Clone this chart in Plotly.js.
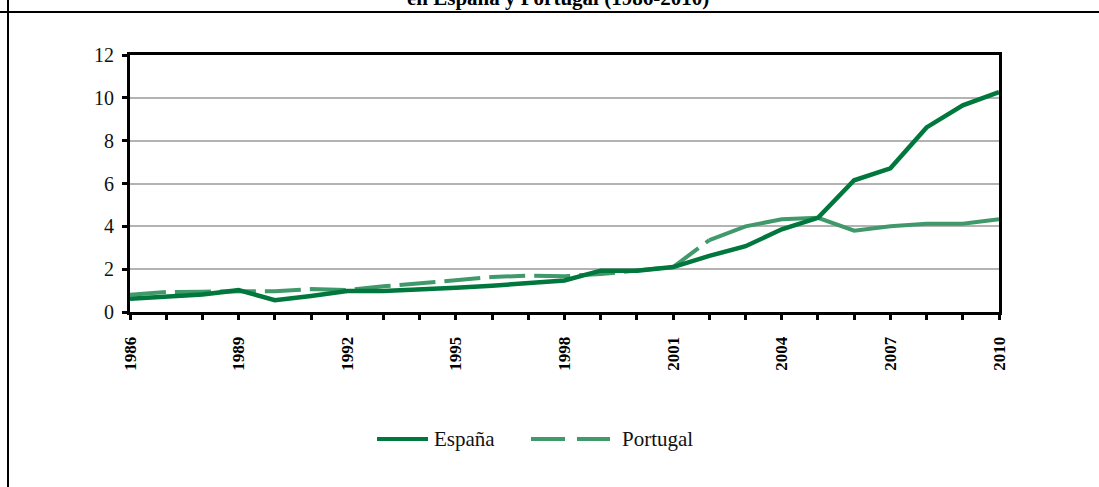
<!DOCTYPE html>
<html>
<head>
<meta charset="utf-8">
<script src="https://cdn.plot.ly/plotly-3.0.1.min.js"></script>
<style>
html,body{margin:0;padding:0;background:#fff;}
#chart{width:1099px;height:487px;}
</style>
</head>
<body>
<div id="chart"></div>
<script>
const years = [1986,1987,1988,1989,1990,1991,1992,1993,1994,1995,1996,1997,1998,1999,2000,2001,2002,2003,2004,2005,2006,2007,2008,2009,2010];
const espana = [0.62,0.70,0.82,1.02,0.55,0.75,0.98,0.98,1.03,1.13,1.23,1.33,1.47,1.93,1.93,2.10,2.62,3.07,3.86,4.40,6.15,6.71,8.62,9.65,10.27];
const portugal = [0.80,0.93,0.95,0.97,0.97,1.07,1.02,1.20,1.35,1.48,1.63,1.70,1.67,1.77,1.92,2.10,3.36,4.00,4.33,4.40,3.80,4.00,4.12,4.12,4.33];
const seriesNames = ["España","Portugal"];
const titleText = "en España y Portugal (1986-2010)";
const yTicks = [0,2,4,6,8,10,12];
const xLabelYears = [1986,1989,1992,1995,1998,2001,2004,2007,2010];

const W = 1099, H = 487;
const M = {l:130, r:100, t:55, b:175};
const PW = W - M.l - M.r, PH = H - M.t - M.b;
const px = v => (v - M.l) / PW;
const py = v => (H - M.b - v) / PH;

const cEsp = "#00773c";
const cPor = "#40996b";
const serif = "Liberation Serif, Times New Roman, serif";

const splitIdx = years.indexOf(2002);

const traces = [
  {x: years.slice(0, splitIdx + 1), y: portugal.slice(0, splitIdx + 1), name: seriesNames[1], mode: "lines",
   line: {color: cPor, width: 4, dash: "36px,9px"}, showlegend: false},
  {x: years.slice(splitIdx), y: portugal.slice(splitIdx), name: seriesNames[1], mode: "lines",
   line: {color: cPor, width: 4}, showlegend: false},
  {x: years, y: espana, name: seriesNames[0], mode: "lines",
   line: {color: cEsp, width: 4.5}, showlegend: false}
];

const shapes = [
  {type: "line", xref: "paper", yref: "paper", x0: px(0), x1: px(W), y0: py(12), y1: py(12), line: {color: "#000", width: 2}},
  {type: "line", xref: "paper", yref: "paper", x0: px(8), x1: px(8), y0: py(0), y1: py(H), line: {color: "#000", width: 2}},
  {type: "line", xref: "paper", yref: "paper", x0: px(377), x1: px(428), y0: py(439), y1: py(439), line: {color: cEsp, width: 4}},
  {type: "line", xref: "paper", yref: "paper", x0: px(531), x1: px(565), y0: py(439), y1: py(439), line: {color: cPor, width: 4}},
  {type: "line", xref: "paper", yref: "paper", x0: px(577), x1: px(610), y0: py(439), y1: py(439), line: {color: cPor, width: 4}}
];

const annotations = [
  {text: "<b>" + titleText + "</b>", xref: "paper", yref: "paper", x: px(558), y: py(12), xanchor: "center", yanchor: "bottom",
   showarrow: false, font: {family: serif, size: 21, color: "#000"}},
  {text: seriesNames[0], xref: "paper", yref: "paper", x: px(432), y: py(439), xanchor: "left", yanchor: "middle",
   showarrow: false, font: {family: serif, size: 21, color: "#111"}},
  {text: seriesNames[1], xref: "paper", yref: "paper", x: px(620), y: py(439), xanchor: "left", yanchor: "middle",
   showarrow: false, font: {family: serif, size: 21, color: "#111"}}
];

const layout = {
  width: W, height: H,
  margin: M,
  paper_bgcolor: "#fff", plot_bgcolor: "#fff",
  showlegend: false,
  xaxis: {
    range: [1986, 2010], tickmode: "array", tickvals: xLabelYears, ticktext: xLabelYears.map(String),
    tickangle: -90, ticks: "outside", ticklen: 5, tickwidth: 3, tickcolor: "#000", ticklabelstandoff: 10,
    minor: {tickmode: "linear", tick0: 1986, dtick: 1, ticks: "outside", ticklen: 5, tickwidth: 3, tickcolor: "#000", showgrid: false},
    showgrid: false, zeroline: false, showline: true, linecolor: "#000", linewidth: 3, mirror: true,
    tickfont: {family: serif, size: 17, color: "#000", weight: "bold"}, fixedrange: true
  },
  yaxis: {
    range: [0, 12], tickmode: "array", tickvals: yTicks,
    ticks: "outside", ticklen: 5, tickwidth: 3, tickcolor: "#000", ticklabelstandoff: 4,
    showgrid: true, gridcolor: "#b3b3b3", gridwidth: 2, zeroline: false,
    showline: true, linecolor: "#000", linewidth: 3, mirror: true,
    tickfont: {family: serif, size: 20, color: "#111"}, fixedrange: true
  },
  shapes: shapes,
  annotations: annotations
};

Plotly.newPlot("chart", traces, layout, {staticPlot: true, displayModeBar: false});
</script>
</body>
</html>
